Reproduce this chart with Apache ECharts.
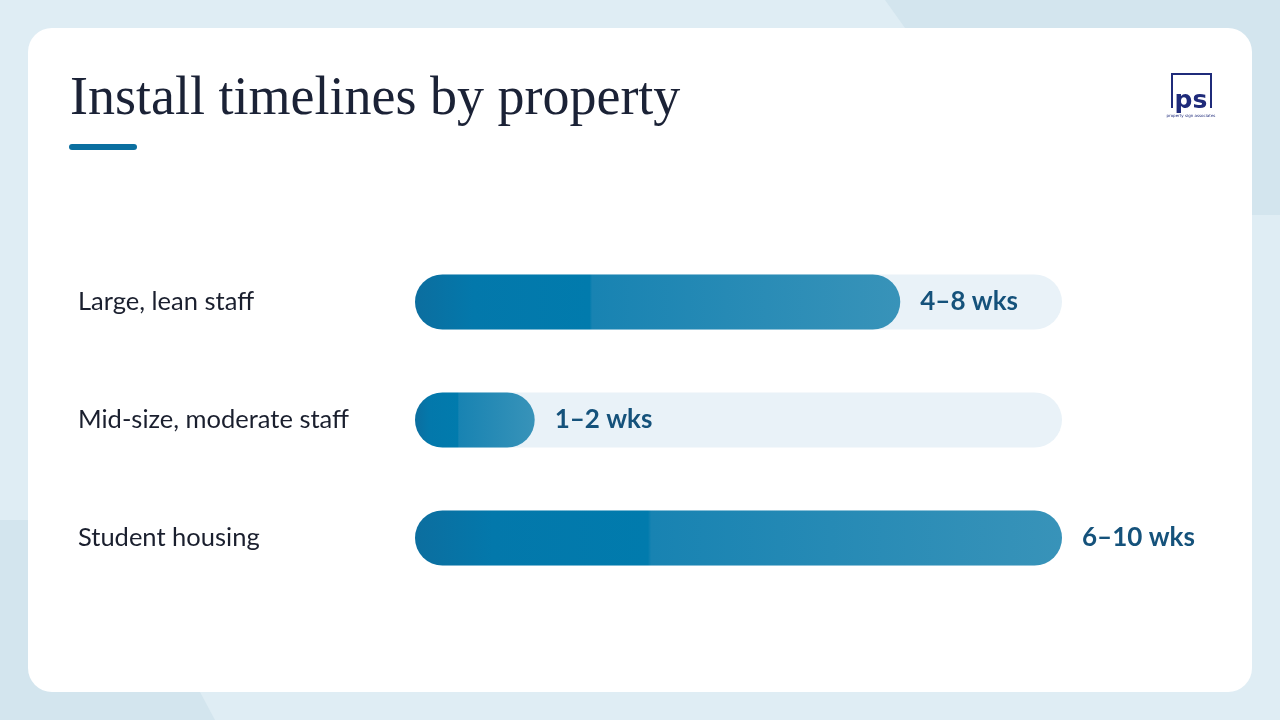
<!DOCTYPE html>
<html>
<head>
<meta charset="utf-8">
<script src="https://cdn.jsdelivr.net/npm/echarts@6/dist/echarts.min.js"></script>
<style>
html,body{margin:0;padding:0;background:#dfedf4;}
#chart{width:1280px;height:720px;}
</style>
</head>
<body>
<div id="chart"></div>
<script>
const categories = ['Large, lean staff', 'Mid-size, moderate staff', 'Student housing'];
const barValues = [7.5, 1.85, 10];
const rangeLabels = ['4–8 wks', '1–2 wks', '6–10 wks'];
const titleText = 'Install timelines by property';

const chart = echarts.init(document.getElementById('chart'));

const barGradient = new echarts.graphic.LinearGradient(0, 0, 1, 0, [
  {offset: 0, color: '#0c6e9f'},
  {offset: 0.12, color: '#0378ab'},
  {offset: 0.36, color: '#017bad'},
  {offset: 0.365, color: '#1883b2'},
  {offset: 1, color: '#3893b9'}
]);

chart.setOption({
  backgroundColor: '#dfedf4',
  animation: false,
  graphic: [
    {type: 'polygon', z: -10, silent: true, shape: {points: [[885,0],[1280,0],[1280,215],[1240,215],[905,28]]}, style: {fill: '#d3e5ee'}},
    {type: 'polygon', z: -10, silent: true, shape: {points: [[0,520],[40,520],[200,692],[215,720],[0,720]]}, style: {fill: '#d3e5ee'}},
    {type: 'rect', z: -5, silent: true, shape: {x: 28, y: 28, width: 1224, height: 664, r: 24}, style: {fill: '#ffffff'}},
    {type: 'text', left: 70, top: 73, silent: true, style: {text: titleText, font: '54px "Liberation Serif", serif', fill: '#1b2236'}},
    {type: 'rect', silent: true, shape: {x: 69, y: 144, width: 68, height: 6, r: 3}, style: {fill: '#0b6fa0'}},
    {type: 'rect', silent: true, shape: {x: 1172, y: 74, width: 39, height: 41}, style: {fill: 'none', stroke: '#1f2b7a', lineWidth: 2}},
    {type: 'rect', silent: true, shape: {x: 1168, y: 108, width: 48, height: 12}, style: {fill: '#ffffff'}},
    {type: 'text', x: 1191, y: 101, silent: true, style: {text: 'ps', font: 'bold 25px "DejaVu Sans", sans-serif', fill: '#1f2b7a', align: 'center', verticalAlign: 'middle'}},
    {type: 'text', x: 1191, y: 116, silent: true, style: {text: 'property sign associates', font: '4px "DejaVu Sans", sans-serif', fill: '#1f2b7a', align: 'center', verticalAlign: 'middle'}}
  ],
  grid: {left: 415, right: 218, top: 243, bottom: 123, containLabel: false},
  xAxis: {type: 'value', min: 0, max: 10, show: false},
  yAxis: {
    type: 'category', data: categories, inverse: true,
    axisLine: {show: false}, axisTick: {show: false}, splitLine: {show: false},
    axisLabel: {align: 'left', margin: 337, fontFamily: 'Lato, sans-serif', fontSize: 25.5, color: '#1a1f2e', padding: [2, 0, 0, 0]}
  },
  series: [{
    type: 'bar',
    data: barValues,
    barWidth: 55,
    showBackground: true,
    backgroundStyle: {color: '#e9f2f8', borderRadius: 28},
    itemStyle: {color: barGradient, borderRadius: 28},
    label: {
      show: true, position: 'right', distance: 20,
      formatter: p => rangeLabels[p.dataIndex],
      fontFamily: 'Lato, sans-serif', fontWeight: 'bold', fontSize: 26, color: '#15527b'
    }
  }]
});
</script>
</body>
</html>
